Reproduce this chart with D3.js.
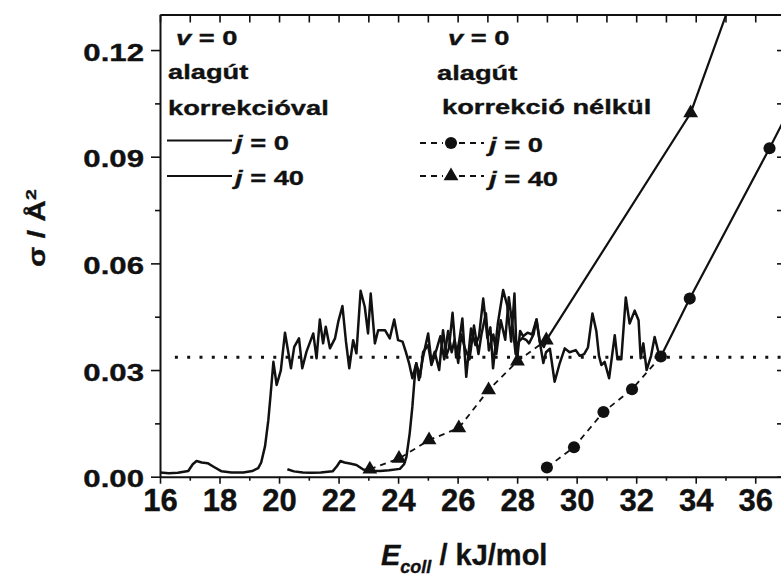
<!DOCTYPE html>
<html>
<head>
<meta charset="utf-8">
<script src="https://cdn.jsdelivr.net/npm/d3@7"></script>
<style>
  body { margin: 0; background: #fff; }
  svg { display: block; font-family: "Liberation Sans", Arial, sans-serif; font-weight: bold; }
  svg text { stroke: #111; stroke-width: 0.35px; }
</style>
</head>
<body>
<svg id="chart" width="781" height="581"></svg>
<script>
// ---- data ----

// x ticks (kJ/mol)
var xMajor = [16, 18, 20, 22, 24, 26, 28, 30, 32, 34, 36];
var xMinor = [17, 19, 21, 23, 25, 27, 29, 31, 33, 35];
// y ticks (Å^2)
var yMajor = [0.00, 0.03, 0.06, 0.09, 0.12];
var yMinor = [0.015, 0.045, 0.075, 0.105];

// with tunnelling correction, j = 0 (noisy trajectory result)
var tunnelJ0 = [
  [16.0,0.0012],[16.3,0.0010],[16.6,0.0011],[16.95,0.0016],[17.1,0.0035],[17.23,0.0044],
  [17.4,0.0040],[17.6,0.0038],[17.8,0.0028],[18.07,0.0015],[18.4,0.0012],[18.8,0.0012],
  [19.1,0.0016],[19.3,0.0024],[19.4,0.0040],[19.53,0.0086],[19.64,0.0159],[19.72,0.0234],
  [19.81,0.0323],[19.92,0.0258],[20.06,0.0299],[20.2,0.0405],[20.4,0.0305],[20.51,0.0365],
  [20.67,0.0389],[20.78,0.0305],[20.92,0.0351],[21.15,0.0403],[21.26,0.0333],[21.37,0.0442],
  [21.48,0.0375],[21.57,0.0422],[21.71,0.0361],[21.88,0.0389],[21.99,0.0436],[22.13,0.0480],
  [22.25,0.0379],[22.36,0.0305],[22.49,0.0384],[22.6,0.0347],[22.74,0.0523],[22.88,0.0478],
  [22.99,0.0403],[23.08,0.0515],[23.22,0.0375],[23.33,0.0412],[23.56,0.0412],[23.72,0.0389],
  [23.87,0.0442],[24.0,0.0384],[24.15,0.0380],[24.26,0.0351],[24.37,0.0319],[24.48,0.0277],
  [24.61,0.0319],[24.7,0.0272],[24.84,0.0337],[25.01,0.0403],[25.12,0.0323],[25.23,0.0351],
  [25.38,0.0300],[25.51,0.0412],[25.62,0.0340],[25.71,0.0362],[25.83,0.0461],[25.95,0.0335],
  [26.05,0.0380],[26.16,0.0445],[26.29,0.0281],[26.45,0.0417],[26.6,0.0370],[26.72,0.0395],
  [26.86,0.0501],[27.0,0.0390],[27.1,0.0420],[27.19,0.0305],[27.35,0.0430],[27.53,0.0525],
  [27.67,0.0480],[27.8,0.0380],[27.91,0.0515],[27.99,0.0323],[28.1,0.0410],[28.2,0.0395],
  [28.35,0.0405],[28.5,0.0400],[28.65,0.0442],[28.76,0.0380],[28.88,0.0320],[28.97,0.0350],
  [29.1,0.0360],[29.26,0.0267],[29.43,0.0319],[29.6,0.0361],[29.76,0.0350],[29.97,0.0356],
  [30.1,0.0340],[30.25,0.0345],[30.38,0.0364],[30.53,0.0459],[30.66,0.0410],[30.75,0.0340],
  [30.83,0.0314],[30.94,0.0323],[31.09,0.0277],[31.28,0.0398],[31.37,0.0330],[31.5,0.0330],
  [31.65,0.0504],[31.78,0.0431],[31.95,0.0467],[32.08,0.0440],[32.15,0.0333],[32.24,0.0375],
  [32.35,0.0300],[32.5,0.0340],[32.62,0.0393],[32.79,0.0336]
];

// with tunnelling correction, j = 40
var tunnelJ40 = [
  [20.28,0.0021],[20.5,0.0015],[20.8,0.0012],[21.1,0.0011],[21.4,0.0012],[21.8,0.0015],
  [21.95,0.0030],[22.06,0.0044],[22.2,0.0040],[22.38,0.0037],[22.6,0.0033],[22.83,0.0020],
  [23.1,0.0017],[23.39,0.0016],[23.7,0.0018],[24.06,0.0022],[24.2,0.0035],[24.28,0.0056],
  [24.39,0.0122],[24.48,0.0197],[24.55,0.0272],[24.61,0.0319],[24.74,0.0280],[24.84,0.0351],
  [25.01,0.0370],[25.12,0.0314],[25.3,0.0360],[25.42,0.0395],[25.55,0.0330],[25.68,0.0410],
  [25.8,0.0350],[25.9,0.0385],[26.02,0.0320],[26.12,0.0400],[26.25,0.0360],[26.4,0.0330],
  [26.55,0.0425],[26.7,0.0345],[26.8,0.0400],[26.95,0.0460],[27.05,0.0355],[27.2,0.0400],
  [27.3,0.0345],[27.45,0.0440],[27.6,0.0385],[27.72,0.0505],[27.85,0.0420],[27.95,0.0345],
  [28.05,0.0380],[28.18,0.0390],[28.3,0.0385],[28.4,0.0375],[28.55,0.0400],[28.65,0.0442],
  [28.76,0.0380],[28.9,0.0365],[28.98,0.0384]
];

// without correction (markers)
var plainJ0 = [[29.0,0.0026],[29.91,0.0083],[30.9,0.0182],[31.86,0.0246],[32.83,0.0338],
               [33.8,0.0501],[36.48,0.0924],[37.5,0.109]];
var plainJ0SolidFrom = 4;
var plainJ40 = [[23.05,0.0021],[24.03,0.0051],[25.04,0.0103],[26.04,0.0137],[27.04,0.0244],
                [28.01,0.0325],[28.98,0.0384],[33.83,0.1023],[35.8,0.148]];
var plainJ40SolidFrom = 6;

// horizontal dotted reference level
var refLevel = 0.0336;
var refStart = 16.5;

(function (d3) {
  "use strict";

  // ---- layout ----
  var svg = d3.select("#chart");
  var plotLeft = 160, plotRight = 785, plotTop = 14.5, plotBottom = 476.7;
  var stretch = 1.3;

  var x = d3.scaleLinear().domain([16, 37]).range([plotLeft, plotRight]);
  var y = d3.scaleLinear().domain([0, 0.13]).range([plotBottom, plotTop]);

  svg.append("defs").append("clipPath").attr("id", "plotclip")
    .append("rect").attr("x", plotLeft).attr("y", plotTop)
    .attr("width", plotRight - plotLeft).attr("height", plotBottom - plotTop);

  var plot = svg.append("g").attr("clip-path", "url(#plotclip)");
  var line = d3.line().x(function(d){ return x(d[0]); }).y(function(d){ return y(d[1]); });

  // reference level
  plot.append("line")
    .attr("x1", x(refStart)).attr("x2", x(37))
    .attr("y1", y(refLevel)).attr("y2", y(refLevel))
    .attr("stroke", "#111").attr("stroke-width", 3)
    .attr("stroke-dasharray", "3,9.3");

  // noisy curves
  [tunnelJ0, tunnelJ40].forEach(function(s){
    plot.append("path").datum(s).attr("d", line)
      .attr("fill", "none").attr("stroke", "#111")
      .attr("stroke-width", 2.5).attr("stroke-linejoin", "round");
  });

  // curves without correction: dashed, then solid
  function plainSeries(data, solidFrom, symbol){
    plot.append("path").datum(data.slice(0, solidFrom + 1)).attr("d", line)
      .attr("fill", "none").attr("stroke", "#111").attr("stroke-width", 1.8)
      .attr("stroke-dasharray", "6,5");
    plot.append("path").datum(data.slice(solidFrom)).attr("d", line)
      .attr("fill", "none").attr("stroke", "#111").attr("stroke-width", 2.2);
    plot.selectAll(null).data(data).enter().append("path")
      .attr("d", symbol)
      .attr("transform", function(d){ return "translate(" + x(d[0]) + "," + y(d[1]) + ")"; })
      .attr("fill", "#111");
  }
  var circleSym = d3.symbol().type(d3.symbolCircle).size(115);
  var triSym = d3.symbol().type(d3.symbolTriangle).size(95);
  plainSeries(plainJ0, plainJ0SolidFrom, circleSym);
  plainSeries(plainJ40, plainJ40SolidFrom, triSym);

  // ---- axes ----
  function styleAxis(g){
    g.select(".domain").attr("stroke", "#111").attr("stroke-width", 2);
    g.selectAll(".tick line").attr("stroke", "#111").attr("stroke-width", 1.6);
  }

  // bottom
  var gx = svg.append("g").attr("transform", "translate(0," + plotBottom + ")")
    .call(d3.axisBottom(x).tickValues(xMajor).tickSize(7).tickSizeOuter(0).tickPadding(5));
  gx.call(styleAxis);
  gx.selectAll("text").attr("font-size", 31).attr("font-weight", "bold").attr("fill", "#111")
    .attr("font-family", "Liberation Sans, Arial, sans-serif");
  svg.append("g").attr("transform", "translate(0," + plotBottom + ")")
    .call(d3.axisBottom(x).tickValues(xMinor).tickSize(4).tickFormat(""))
    .call(styleAxis).select(".domain").remove();

  // top (ticks inward)
  svg.append("g").attr("transform", "translate(0," + plotTop + ")")
    .call(d3.axisBottom(x).tickValues(xMajor.concat(xMinor)).tickSize(8).tickSizeOuter(0).tickFormat(""))
    .call(styleAxis);

  // left
  var gy = svg.append("g").attr("transform", "translate(" + plotLeft + ",0)")
    .call(d3.axisLeft(y).tickValues(yMajor).tickSize(9).tickSizeOuter(0).tickFormat(d3.format(".2f")));
  gy.call(styleAxis);
  gy.selectAll("text")
    .attr("font-size", 24).attr("font-weight", "bold").attr("fill", "#111")
    .attr("font-family", "Liberation Sans, Arial, sans-serif")
    .attr("x", -16 / stretch).attr("dy", "0.42em")
    .attr("transform", "scale(" + stretch + ",1)");
  svg.append("g").attr("transform", "translate(" + plotLeft + ",0)")
    .call(d3.axisLeft(y).tickValues(yMinor).tickSize(5).tickFormat(""))
    .call(styleAxis).select(".domain").remove();

  // right (ticks inward)
  svg.append("g").attr("transform", "translate(" + plotRight + ",0)")
    .call(d3.axisLeft(y).tickValues(yMajor.concat(yMinor)).tickSize(8).tickSizeOuter(0).tickFormat(""))
    .call(styleAxis);

  // ---- text helpers ----
  function stext(x0, y0, size, parts, rotate){
    var tr = "translate(" + x0 + "," + y0 + ")" + (rotate ? " rotate(" + rotate + ")" : "") +
             " scale(" + stretch + ",1)";
    var t = svg.append("g").attr("transform", tr).append("text")
      .attr("font-size", size).attr("fill", "#111");
    parts.forEach(function(p){
      var ts = t.append("tspan").text(p.t);
      if (p.i) ts.attr("font-style", "italic");
      if (p.dy) ts.attr("dy", p.dy);
      if (p.s) ts.attr("font-size", p.s);
    });
    return t;
  }

  // axis titles
  stext(45, 267, 23, [{t: "σ / Å"}, {t: "2", s: 15, dy: "-0.6em"}], -90);
  var xt = svg.append("text").attr("x", 381).attr("y", 565).attr("font-size", 29).attr("fill", "#111");
  xt.append("tspan").attr("font-style", "italic").text("E");
  xt.append("tspan").attr("font-style", "italic").attr("font-size", 18).attr("dy", 8).text("coll");
  xt.append("tspan").attr("dy", -8).text(" / kJ/mol");

  // ---- legend: with correction ----
  stext(176, 45, 21, [{t: "v", i: true}, {t: " = 0"}]);
  stext(168, 79, 21, [{t: "alagút"}]);
  stext(168, 115, 21, [{t: "korrekcióval"}]);
  var legLines = [{yy: 140.5, lab: "0", ty: 150}, {yy: 176, lab: "40", ty: 185}];
  legLines.forEach(function(l){
    svg.append("line").attr("x1", 167).attr("x2", 232).attr("y1", l.yy).attr("y2", l.yy)
      .attr("stroke", "#111").attr("stroke-width", 2.2);
    stext(235, l.ty, 21, [{t: "j", i: true}, {t: " = " + l.lab}]);
  });

  // ---- legend: without correction ----
  stext(448, 45, 21, [{t: "v", i: true}, {t: " = 0"}]);
  stext(437, 80, 21, [{t: "alagút"}]);
  stext(442, 114, 21, [{t: "korrekció nélkül"}]);
  var legMarks = [{yy: 143, sym: circleSym, lab: "0", ty: 152}, {yy: 176, sym: triSym, lab: "40", ty: 186}];
  legMarks.forEach(function(l){
    [[420, 443], [459, 484]].forEach(function(seg){
      svg.append("line").attr("x1", seg[0]).attr("x2", seg[1]).attr("y1", l.yy).attr("y2", l.yy)
        .attr("stroke", "#111").attr("stroke-width", 1.8).attr("stroke-dasharray", "6,5");
    });
    svg.append("path").attr("d", l.sym).attr("transform", "translate(451," + l.yy + ")").attr("fill", "#111");
    stext(489, l.ty, 21, [{t: "j", i: true}, {t: " = " + l.lab}]);
  });
})(d3);
</script>
</body>
</html>
